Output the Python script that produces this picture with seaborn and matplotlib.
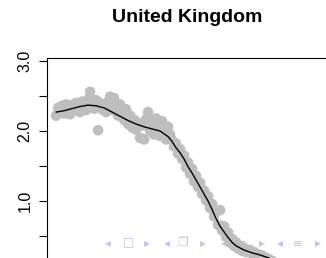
import matplotlib
matplotlib.use("Agg")
import matplotlib.pyplot as plt
import numpy as np
import seaborn as sns

# half-yearly observations (grey points)
years = np.arange(1951.0, 2016.01, 0.5)
values = [2.22, 2.33, 2.30, 2.36, 2.25, 2.38, 2.31, 2.24, 2.37, 2.29,
          2.40, 2.33, 2.27, 2.42, 2.35, 2.30, 2.45, 2.56, 2.38, 2.32,
          2.44, 2.01, 2.40, 2.31, 2.36, 2.27, 2.42, 2.49, 2.30, 2.47,
          2.35, 2.22, 2.38, 2.28, 2.16, 2.31, 2.10, 2.22, 2.05, 2.16,
          2.02, 2.12, 1.90, 2.08, 1.88, 2.17, 2.27, 2.00, 2.12, 1.95,
          2.18, 2.05, 1.93, 2.14, 2.02, 1.88, 2.06, 1.95, 1.87, 1.78,
          1.82, 1.68, 1.74, 1.60, 1.65, 1.48, 1.55, 1.39, 1.46, 1.28,
          1.36, 1.20, 1.26, 1.10, 1.15, 1.01, 1.07, 0.90, 0.96, 0.78,
          0.85, 0.66, 0.87, 0.58, 0.64, 0.49, 0.55, 0.41, 0.46, 0.36,
          0.41, 0.32, 0.36, 0.29, 0.33, 0.27, 0.29, 0.30, 0.25, 0.27,
          0.23, 0.24, 0.21, 0.22, 0.19, 0.19, 0.17, 0.16, 0.14, 0.13,
          0.11,
          0.10, 0.10, 0.09, 0.08, 0.08, 0.07, 0.06, 0.06, 0.05, 0.05,
          0.04, 0.04, 0.04, 0.03, 0.03, 0.03, 0.02, 0.02, 0.02, 0.02]

# smoothed trend line
smooth_years = [1951, 1953, 1955, 1957, 1959, 1961, 1963, 1965, 1967, 1969,
                1971, 1973, 1975, 1977, 1979, 1980, 1981, 1982, 1983, 1984,
                1985, 1986, 1987, 1988, 1989, 1990, 1991, 1992, 1993, 1994,
                1995, 1996, 1997, 1998, 2000, 2002, 2004, 2006, 2009, 2012, 2016]
smooth_values = [2.27, 2.29, 2.32, 2.35, 2.37, 2.36, 2.33, 2.27, 2.21, 2.15,
                 2.10, 2.06, 2.03, 2.00, 1.92, 1.85, 1.76, 1.69, 1.60, 1.49,
                 1.40, 1.30, 1.20, 1.10, 1.00, 0.88, 0.75, 0.64, 0.56, 0.48,
                 0.41, 0.36, 0.33, 0.30, 0.26, 0.23, 0.19, 0.14, 0.08, 0.05, 0.03]

ytick_pos = [0.5, 1.0, 1.5, 2.0, 2.5, 3.0]
ytick_labels = ['', '1.0', '', '2.0', '', '3.0']

# beamer navigation symbols at the bottom of the slide
nav_symbols = ['◂', '□', '▸', '◂', '❐', '▸', '◂', '≡', '▸', '◂', '≡', '▸']
nav_x = [108, 128, 147, 167, 182, 203, 224, 243, 262, 280, 298, 318]

sns.set_style("white")
plt.rcParams['font.family'] = ['Liberation Sans', 'DejaVu Sans']
plt.rcParams['text.color'] = 'black'
plt.rcParams['ytick.color'] = 'black'

W, H = 326, 258
fig = plt.figure(figsize=(W / 100, H / 100), dpi=100)
fig.patch.set_facecolor('white')

# the plot box runs past the right and bottom edges of the picture
ax = fig.add_axes([46.5 / W, (H - 300) / H, (328 - 46.5) / W, (300 - 57.5) / H])
ax.patch.set_alpha(0)

sns.scatterplot(x=years, y=values, color='#bebebe', s=58, edgecolor='none',
                linewidth=0, ax=ax, zorder=2)
sns.lineplot(x=smooth_years, y=smooth_values, color='black', lw=1.0,
             ax=ax, zorder=3)

ax.set_xlim(1948.6, 2019.0)
ax.set_ylim(-0.414, 3.05)
ax.set_xticks([])
ax.set_yticks(ytick_pos)
ax.set_yticklabels(ytick_labels)
ax.tick_params(axis='y', left=True, length=5.5, width=0.8, pad=4.5,
               labelsize=11.5, labelrotation=90, color='black',
               labelcolor='black')
for lab in ax.get_yticklabels():
    lab.set_va('center')
for sp in ax.spines.values():
    sp.set_visible(True)
    sp.set_color('black')
    sp.set_linewidth(0.8)
ax.set_xlabel('')
ax.set_ylabel('')

fig.text(187 / W, 1 - 22 / H, 'United Kingdom', ha='center', va='baseline',
         fontsize=14, fontweight='bold', color='black')

nav_color = '#c2c2ec'
for sym, px in zip(nav_symbols, nav_x):
    fig.text(px / W, 1 - 243 / H, sym, color=nav_color, fontsize=8.5,
             ha='center', va='center', zorder=-1, family=['DejaVu Sans'])

fig.savefig('out.png', dpi=100, facecolor='white')
